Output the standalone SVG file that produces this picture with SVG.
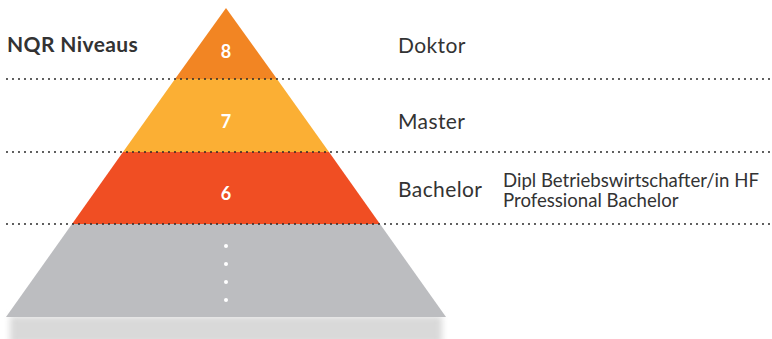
<svg xmlns="http://www.w3.org/2000/svg" width="772" height="339" viewBox="0 0 772 339">
<defs>
<style>
.lbl{font-family:Lato,"Noto Sans",sans-serif;fill:#333333}
.num{font-family:Lato,"Noto Sans",sans-serif;font-weight:bold;fill:#ffffff;font-size:18px;text-anchor:middle}
.dot{stroke:#2b2b2b;stroke-width:2;stroke-dasharray:0 6;stroke-linecap:round;fill:none}
</style>
<filter id="blur" x="-10%" y="-50%" width="120%" height="200%"><feGaussianBlur stdDeviation="3"/></filter>
</defs>
<rect width="772" height="339" fill="#ffffff"/>
<g id="shadow"><rect x="10" y="316" width="432" height="28" fill="#d9d9d9" filter="url(#blur)"/></g>
<g id="level-low">
<polygon points="72,224 380,224 446,317 6,317" fill="#bcbdc0"/>
<circle cx="226" cy="246" r="2" fill="#fff"/>
<circle cx="226" cy="264" r="2" fill="#fff"/>
<circle cx="226" cy="282" r="2" fill="#fff"/>
<circle cx="226" cy="300" r="2" fill="#fff"/>
</g>
<g id="level-6">
<polygon points="123,152 329,152 380,224 72,224" fill="#f04e23"/>
<text class="num" x="226" y="200">6</text>
</g>
<g id="level-7">
<polygon points="175,79 277,79 329,152 123,152" fill="#fbaf34"/>
<text class="num" x="226" y="128">7</text>
</g>
<g id="level-8">
<polygon points="226,8 277,79 175,79" fill="#f28523"/>
<text class="num" x="226" y="58">8</text>
</g>
<g id="connectors">
<line class="dot" x1="7" y1="79" x2="772" y2="79"/>
<line class="dot" x1="7" y1="152" x2="772" y2="152"/>
<line class="dot" x1="7" y1="224" x2="772" y2="224"/>
</g>
<g id="labels">
<text class="lbl" x="7" y="52" font-size="21" font-weight="bold" letter-spacing="0.4" fill="#222">NQR Niveaus</text>
<text class="lbl" x="398" y="53" font-size="21" letter-spacing="0.4">Doktor</text>
<text class="lbl" x="398" y="129" font-size="21" letter-spacing="0.4">Master</text>
<text class="lbl" x="398" y="197" font-size="21" letter-spacing="0.4">Bachelor</text>
<text class="lbl" x="503" y="187" font-size="18.6">Dipl Betriebswirtschafter/in HF</text>
<text class="lbl" x="503" y="207" font-size="18.6">Professional Bachelor</text>
</g>
</svg>
